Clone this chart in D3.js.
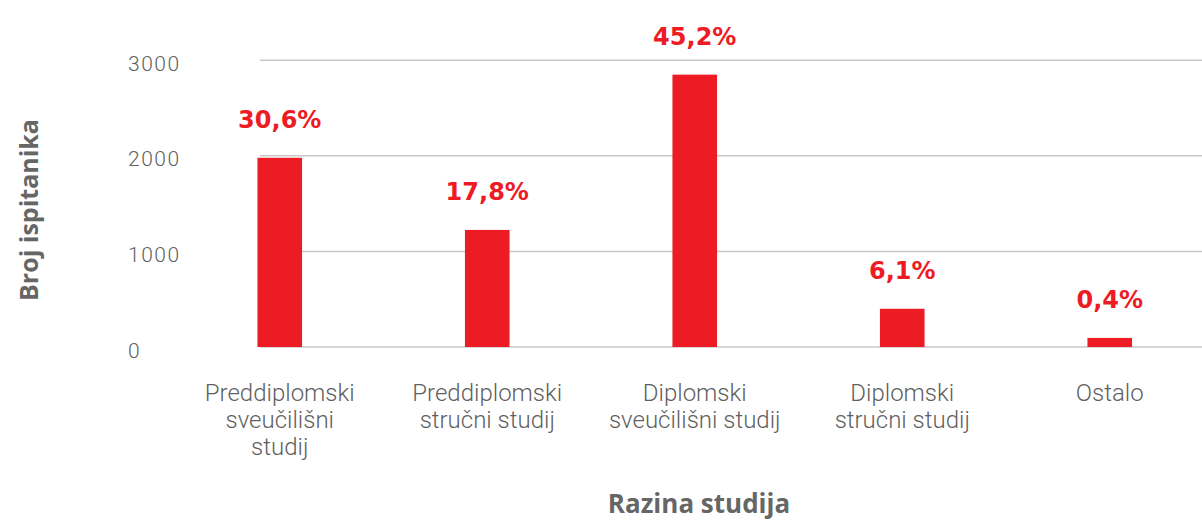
<!DOCTYPE html>
<html>
<head>
<meta charset="utf-8">
<script src="https://cdn.jsdelivr.net/npm/d3@7"></script>
<style>
  html, body { margin: 0; padding: 0; background: #fff; }
  svg { display: block; }
</style>
</head>
<body>
<svg id="chart" width="1202" height="523"></svg>
<script>
// ---- data ----
const categories = [
  ["Preddiplomski", "sveučilišni", "studij"],
  ["Preddiplomski", "stručni studij"],
  ["Diplomski", "sveučilišni studij"],
  ["Diplomski", "stručni studij"],
  ["Ostalo"]
];
const counts = [1980, 1225, 2850, 400, 95];
const percentLabels = ["30,6%", "17,8%", "45,2%", "6,1%", "0,4%"];
const yTicks = [0, 1000, 2000, 3000];
const yTitle = "Broj ispitanika";
const xTitle = "Razina studija";

// ---- layout ----
const svg = d3.select("#chart");
const keys = categories.map((c, i) => i);
const RED = "#ED1C24";
const GRAY = "#5f5f5f";

const y = d3.scaleLinear().domain([0, 3000]).range([347, 60.3]);
const x = d3.scaleBand().domain(keys).range([176, 1213.5]);
const barW = x.bandwidth() * 0.215;
const cx = i => x(i) + x.bandwidth() / 2;

// gridlines
svg.append("g").selectAll("line").data(yTicks).join("line")
  .attr("x1", 260).attr("x2", 1202)
  .attr("y1", d => y(d)).attr("y2", d => y(d))
  .attr("stroke", "#c8c8c8").attr("stroke-width", 1.5);

// y tick labels
svg.append("g").selectAll("text").data(yTicks).join("text")
  .attr("x", 128).attr("y", d => y(d) + 10.5)
  .attr("font-family", "Roboto").attr("font-weight", 300)
  .attr("font-size", 21).attr("letter-spacing", 1.5)
  .attr("fill", GRAY)
  .text(d => d);

// bars
svg.append("g").selectAll("rect").data(counts).join("rect")
  .attr("x", (d, i) => cx(i) - barW / 2)
  .attr("width", barW)
  .attr("y", d => y(d))
  .attr("height", d => y(0) - y(d))
  .attr("fill", RED);

// percentage labels
svg.append("g").selectAll("text").data(counts).join("text")
  .attr("x", (d, i) => cx(i))
  .attr("y", d => y(d) - 30)
  .attr("text-anchor", "middle")
  .attr("font-family", "DejaVu Sans").attr("font-weight", 700)
  .attr("font-size", 24)
  .attr("fill", RED)
  .text((d, i) => percentLabels[i]);

// category labels
const catG = svg.append("g").selectAll("text").data(categories).join("text")
  .attr("x", (d, i) => cx(i))
  .attr("y", 401)
  .attr("text-anchor", "middle")
  .attr("font-family", "Roboto").attr("font-weight", 300)
  .attr("font-size", 24)
  .attr("fill", GRAY);
catG.each(function(lines, i) {
  const t = d3.select(this);
  lines.forEach((ln, j) => {
    t.append("tspan").attr("x", cx(i)).attr("dy", j === 0 ? 0 : 27).text(ln);
  });
});

// axis titles
svg.append("text")
  .attr("transform", "translate(38,210) rotate(-90)")
  .attr("text-anchor", "middle")
  .attr("font-family", "Open Sans").attr("font-weight", 700)
  .attr("font-size", 25)
  .attr("fill", "#666")
  .text(yTitle);

svg.append("text")
  .attr("x", 699).attr("y", 513)
  .attr("text-anchor", "middle")
  .attr("font-family", "Open Sans").attr("font-weight", 700)
  .attr("font-size", 26)
  .attr("fill", "#666")
  .text(xTitle);
</script>
</body>
</html>
